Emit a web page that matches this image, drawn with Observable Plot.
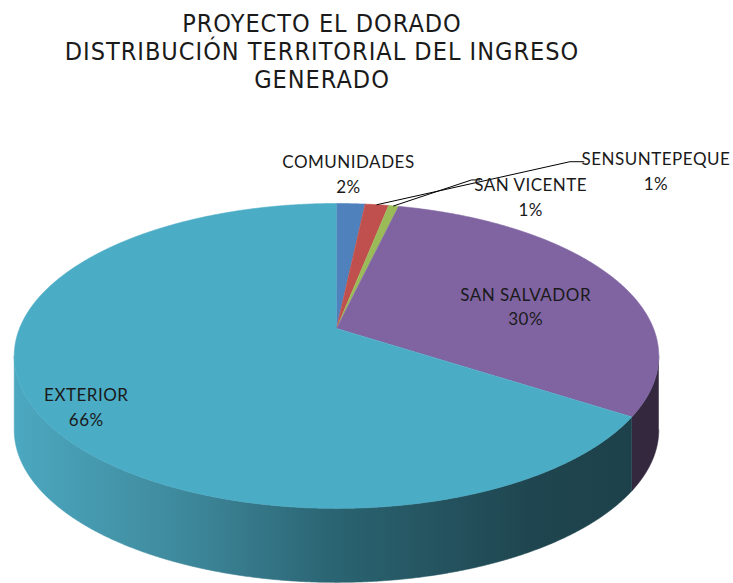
<!DOCTYPE html>
<html><head><meta charset="utf-8">
<script src="https://cdn.jsdelivr.net/npm/d3@7"></script>
<script src="https://cdn.jsdelivr.net/npm/@observablehq/plot@0.6"></script>
<style>
body{margin:0;background:#fff;}
#title{height:100px;width:644px;text-align:center;font-family:"Liberation Sans Narrow","DejaVu Sans Condensed","Liberation Sans",sans-serif;font-stretch:condensed;font-size:25px;line-height:28px;letter-spacing:1px;color:#1a1a1a;padding-top:10px;box-sizing:border-box;}
</style></head><body>
<div id="title">PROYECTO EL DORADO<br>DISTRIBUCIÓN TERRITORIAL DEL INGRESO<br>GENERADO</div>
<div id="chart"></div>
<script>
// ---- data ----
const names = ["COMUNIDADES", "SENSUNTEPEQUE", "SAN VICENTE", "SAN SALVADOR", "EXTERIOR"];
const values = [1.7, 1.4, 0.6, 30.4, 65.9];

// ---- styles ----
const palette = ["#4F81BD", "#C0504D", "#9BBB59", "#8064A2", "#4BACC6"];
const sideFills = ["#2F4D73", "#77302E", "#5E7236", "#34283F", "url(#sideGrad)"];

// ---- layout ----
const W = 733, H = 483, CX = 336, CY = 228;
const K = 0.18, A = 317, B = 147.5, DEPTH = 74;
const insideLabels = [
  {name: "COMUNIDADES", r: 1.31, dx: -6, dy: 0},
  {name: "SAN SALVADOR", r: 0.65, dx: 6, dy: 11},
  {name: "EXTERIOR", r: 0.85, dx: 5, dy: 12}
];
const leaderLabels = [
  {name: "SENSUNTEPEQUE", line: [[193, -43], [207, -43]], text: [279, -35]},
  {name: "SAN VICENTE", line: [[78, -26], [86, -26]], text: [137, -10]}
];

const TAU = 2 * Math.PI;
function proj(theta, r, z) {
  const u = r * Math.sin(theta), v = -r * Math.cos(theta);
  const s = 1 / (1 - K * v);
  return {xu: u * s, yu: v * s + z * DEPTH / B};
}
const total = d3.sum(values);
let acc = 0;
const slices = names.map((name, i) => {
  const a0 = acc / total * TAU; acc += values[i]; const a1 = acc / total * TAU;
  return {name, value: values[i], a0, a1, mid: (a0 + a1) / 2, pct: Math.round(values[i]) + "%"};
});
const step = TAU / 1440;
function arc(a0, a1, r, z) {
  const n = Math.max(2, Math.ceil((a1 - a0) / step));
  return d3.range(n + 1).map(j => proj(a0 + (a1 - a0) * j / n, r, z));
}
const S1 = Math.acos(-K), S2 = TAU - S1;
const sideBands = slices.map((s, i) => {
  const b0 = Math.max(s.a0, S1), b1 = Math.min(s.a1, S2);
  if (b1 <= b0) return null;
  return {fill: sideFills[i], pts: [...arc(b0, b1, 1, 0), ...arc(b0, b1, 1, 1).reverse()]};
}).filter(Boolean);

const topPts = slices.flatMap(s => [proj(0, 0, 0), ...arc(s.a0, s.a1, 1, 0)].map(p => ({...p, name: s.name})));

const byName = Object.fromEntries(slices.map(s => [s.name, s]));
const labels = [];
for (const L of insideLabels) {
  const s = byName[L.name]; const p = proj(s.mid, L.r, 0);
  labels.push({xu: p.xu + L.dx / A, yu: p.yu + L.dy / B, text: s.name + "\n" + s.pct});
}
const leaders = [];
for (const L of leaderLabels) {
  const s = byName[L.name]; const p = proj(s.mid, 1, 0);
  leaders.push({name: s.name, xu: p.xu, yu: p.yu});
  for (const [dx, dy] of L.line) leaders.push({name: s.name, xu: p.xu + dx / A, yu: p.yu + dy / B});
  labels.push({xu: p.xu + L.text[0] / A, yu: p.yu + L.text[1] / B, text: s.name + "\n" + s.pct});
}

const plot = Plot.plot({
  width: W, height: H, margin: 0,
  x: {domain: [-CX / A, (W - CX) / A], range: [0, W], axis: null},
  y: {domain: [-CY / B, (H - CY) / B], range: [0, H], axis: null},
  color: {domain: names, range: palette},
  style: {background: "white", overflow: "visible", letterSpacing: "0.5px"},
  marks: [
    ...sideBands.map(b => Plot.line(b.pts, {x: "xu", y: "yu", fill: b.fill, stroke: b.fill, strokeWidth: 0.6, curve: "linear"})),
    Plot.line(topPts, {x: "xu", y: "yu", z: "name", fill: "name", stroke: "name", strokeWidth: 0.6, curve: "linear"}),
    Plot.line(leaders, {x: "xu", y: "yu", z: "name", stroke: "#000", strokeWidth: 1, curve: "linear"}),
    Plot.text(labels, {x: "xu", y: "yu", text: "text", fontSize: 17, fontFamily: "Lato", lineHeight: 1.45, fill: "#1a1a1a"})
  ]
});
const defs = document.createElementNS("http://www.w3.org/2000/svg", "defs");
defs.innerHTML = `<linearGradient id="sideGrad" gradientUnits="userSpaceOnUse" x1="14" y1="0" x2="658" y2="0">
<stop offset="0" stop-color="#4BA8C0"/><stop offset="0.2" stop-color="#4290A4"/><stop offset="0.3" stop-color="#3B8396"/>
<stop offset="0.5" stop-color="#2A6371"/><stop offset="0.8" stop-color="#1F4650"/><stop offset="1" stop-color="#1D404A"/></linearGradient>`;
plot.insertBefore(defs, plot.firstChild);
document.getElementById("chart").appendChild(plot);
</script>
</body></html>
